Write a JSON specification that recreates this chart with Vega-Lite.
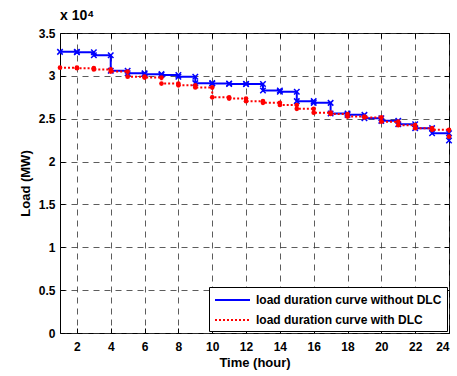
{
  "$schema": "https://vega.github.io/schema/vega-lite/v6.json",
  "width": 389,
  "height": 300,
  "autosize": {"type": "none"},
  "padding": {"left": 60, "top": 33, "right": 8, "bottom": 43},
  "background": "white",
  "title": {"text": "x 10⁴", "anchor": "start", "frame": "group", "offset": 4, "fontSize": 14, "font": "Liberation Sans", "fontWeight": "bold", "color": "black"},
  "config": {
    "font": "Liberation Sans",
    "view": {"stroke": "black", "strokeWidth": 1},
    "axis": {
      "labelFont": "Liberation Sans", "labelFontWeight": "bold", "labelFontSize": 12, "labelColor": "black",
      "titleFont": "Liberation Sans", "titleFontWeight": "bold", "titleFontSize": 13, "titleColor": "black",
      "domain": false, "tickColor": "black", "tickSize": -5, "tickWidth": 1,
      "grid": true, "gridColor": "#333333", "gridDash": [6, 5], "gridOpacity": 0.8, "gridWidth": 1
    },
    "legend": {
      "orient": "bottom-right", "offset": 2, "strokeColor": "black", "fillColor": "white",
      "padding": 5, "cornerRadius": 0, "labelFont": "Liberation Sans", "labelFontWeight": "bold",
      "labelFontSize": 12, "labelColor": "black", "labelLimit": 400, "rowPadding": 6,
      "symbolType": "M-1,0L4,0", "symbolSize": 196, "symbolStrokeWidth": 2, "labelOffset": 26
    }
  },
  "data": {"values": [
    {"h":1,"mw":32800,"c":"without DLC"},{"h":2,"mw":32800,"c":"without DLC"},
    {"h":2,"mw":32750,"c":"without DLC"},{"h":3,"mw":32750,"c":"without DLC"},
    {"h":3,"mw":32400,"c":"without DLC"},{"h":4,"mw":32400,"c":"without DLC"},
    {"h":4,"mw":30600,"c":"without DLC"},{"h":5,"mw":30600,"c":"without DLC"},
    {"h":5,"mw":30300,"c":"without DLC"},{"h":6,"mw":30300,"c":"without DLC"},
    {"h":6,"mw":30200,"c":"without DLC"},{"h":7,"mw":30200,"c":"without DLC"},
    {"h":7,"mw":30100,"c":"without DLC"},{"h":8,"mw":30100,"c":"without DLC"},
    {"h":8,"mw":29900,"c":"without DLC"},{"h":9,"mw":29900,"c":"without DLC"},
    {"h":9,"mw":29150,"c":"without DLC"},{"h":10,"mw":29150,"c":"without DLC"},
    {"h":10,"mw":29100,"c":"without DLC"},{"h":11,"mw":29100,"c":"without DLC"},
    {"h":11,"mw":29050,"c":"without DLC"},{"h":12,"mw":29050,"c":"without DLC"},
    {"h":12,"mw":29050,"c":"without DLC"},{"h":13,"mw":29050,"c":"without DLC"},
    {"h":13,"mw":28300,"c":"without DLC"},{"h":14,"mw":28300,"c":"without DLC"},
    {"h":14,"mw":28150,"c":"without DLC"},{"h":15,"mw":28150,"c":"without DLC"},
    {"h":15,"mw":27050,"c":"without DLC"},{"h":16,"mw":27050,"c":"without DLC"},
    {"h":16,"mw":26850,"c":"without DLC"},{"h":17,"mw":26850,"c":"without DLC"},
    {"h":17,"mw":25600,"c":"without DLC"},{"h":18,"mw":25600,"c":"without DLC"},
    {"h":18,"mw":25450,"c":"without DLC"},{"h":19,"mw":25450,"c":"without DLC"},
    {"h":19,"mw":25050,"c":"without DLC"},{"h":20,"mw":25050,"c":"without DLC"},
    {"h":20,"mw":24750,"c":"without DLC"},{"h":21,"mw":24750,"c":"without DLC"},
    {"h":21,"mw":24350,"c":"without DLC"},{"h":22,"mw":24350,"c":"without DLC"},
    {"h":22,"mw":23900,"c":"without DLC"},{"h":23,"mw":23900,"c":"without DLC"},
    {"h":23,"mw":23300,"c":"without DLC"},{"h":24,"mw":23300,"c":"without DLC"},
    {"h":24,"mw":22450,"c":"without DLC"},
    {"h":1,"mw":30950,"c":"with DLC"},{"h":2,"mw":30950,"c":"with DLC"},
    {"h":2,"mw":30900,"c":"with DLC"},{"h":3,"mw":30900,"c":"with DLC"},
    {"h":3,"mw":30750,"c":"with DLC"},{"h":4,"mw":30750,"c":"with DLC"},
    {"h":4,"mw":30500,"c":"with DLC"},{"h":5,"mw":30500,"c":"with DLC"},
    {"h":5,"mw":29900,"c":"with DLC"},{"h":6,"mw":29900,"c":"with DLC"},
    {"h":6,"mw":29800,"c":"with DLC"},{"h":7,"mw":29800,"c":"with DLC"},
    {"h":7,"mw":29100,"c":"with DLC"},{"h":8,"mw":29100,"c":"with DLC"},
    {"h":8,"mw":28900,"c":"with DLC"},{"h":9,"mw":28900,"c":"with DLC"},
    {"h":9,"mw":28650,"c":"with DLC"},{"h":10,"mw":28650,"c":"with DLC"},
    {"h":10,"mw":27500,"c":"with DLC"},{"h":11,"mw":27500,"c":"with DLC"},
    {"h":11,"mw":27350,"c":"with DLC"},{"h":12,"mw":27350,"c":"with DLC"},
    {"h":12,"mw":27050,"c":"with DLC"},{"h":13,"mw":27050,"c":"with DLC"},
    {"h":13,"mw":26850,"c":"with DLC"},{"h":14,"mw":26850,"c":"with DLC"},
    {"h":14,"mw":26600,"c":"with DLC"},{"h":15,"mw":26600,"c":"with DLC"},
    {"h":15,"mw":26150,"c":"with DLC"},{"h":16,"mw":26150,"c":"with DLC"},
    {"h":16,"mw":25700,"c":"with DLC"},{"h":17,"mw":25700,"c":"with DLC"},
    {"h":17,"mw":25550,"c":"with DLC"},{"h":18,"mw":25550,"c":"with DLC"},
    {"h":18,"mw":25250,"c":"with DLC"},{"h":19,"mw":25250,"c":"with DLC"},
    {"h":19,"mw":25150,"c":"with DLC"},{"h":20,"mw":25150,"c":"with DLC"},
    {"h":20,"mw":24650,"c":"with DLC"},{"h":21,"mw":24650,"c":"with DLC"},
    {"h":21,"mw":24250,"c":"with DLC"},{"h":22,"mw":24250,"c":"with DLC"},
    {"h":22,"mw":23900,"c":"with DLC"},{"h":23,"mw":23900,"c":"with DLC"},
    {"h":23,"mw":23700,"c":"with DLC"},{"h":24,"mw":23700,"c":"with DLC"},
    {"h":24,"mw":22900,"c":"with DLC"}
  ]},
  "layer": [
    {
      "transform": [{"filter": "datum.c === 'without DLC'"}],
      "mark": {"type": "line", "strokeWidth": 2},
      "encoding": {
        "x": {"field": "h", "type": "quantitative", "scale": {"domain": [1, 24], "nice": false},
              "axis": {"values": [2,4,6,8,10,12,14,16,18,20,22,24], "title": "Time (hour)", "labelPadding": 13, "titlePadding": 4}},
        "y": {"field": "mw", "type": "quantitative", "scale": {"domain": [0, 35000], "nice": false},
              "axis": {"values": [0,5000,10000,15000,20000,25000,30000,35000], "labelExpr": "format(datum.value/10000, '~g')", "title": "Load (MW)", "labelPadding": 10, "titlePadding": 6}},
        "color": {"field": "c", "type": "nominal", "scale": {"domain": ["without DLC", "with DLC"], "range": ["#0000ff", "#ff0000"]},
                  "legend": {"title": null, "labelExpr": "'load duration curve ' + datum.label"}},
        "strokeDash": {"field": "c", "type": "nominal", "scale": {"domain": ["without DLC", "with DLC"], "range": [[1, 0], [2, 2]]}},
        "order": {"value": null}
      }
    },
    {
      "transform": [{"filter": "datum.c === 'without DLC'"}],
      "mark": {"type": "point", "shape": "M-1,-1L1,1M1,-1L-1,1", "filled": false, "color": "#0000ff", "strokeWidth": 1.5, "size": 30, "opacity": 1},
      "encoding": {
        "x": {"field": "h", "type": "quantitative", "axis": {"orient": "top", "values": [2,4,6,8,10,12,14,16,18,20,22,24], "labels": false, "grid": false, "title": null}},
        "y": {"field": "mw", "type": "quantitative", "axis": {"orient": "right", "values": [0,5000,10000,15000,20000,25000,30000,35000], "labels": false, "grid": false, "title": null}}
      }
    },
    {
      "transform": [{"filter": "datum.c === 'with DLC'"}],
      "mark": {"type": "line", "strokeWidth": 2},
      "encoding": {
        "x": {"field": "h", "type": "quantitative", "axis": null},
        "y": {"field": "mw", "type": "quantitative", "axis": null},
        "color": {"field": "c", "type": "nominal"},
        "strokeDash": {"field": "c", "type": "nominal"},
        "order": {"value": null}
      }
    },
    {
      "transform": [{"filter": "datum.c === 'with DLC'"}],
      "mark": {"type": "circle", "color": "#ff0000", "size": 22, "opacity": 1},
      "encoding": {
        "x": {"field": "h", "type": "quantitative", "axis": null},
        "y": {"field": "mw", "type": "quantitative", "axis": null}
      }
    }
  ],
  "resolve": {"axis": {"x": "independent", "y": "independent"}}
}
